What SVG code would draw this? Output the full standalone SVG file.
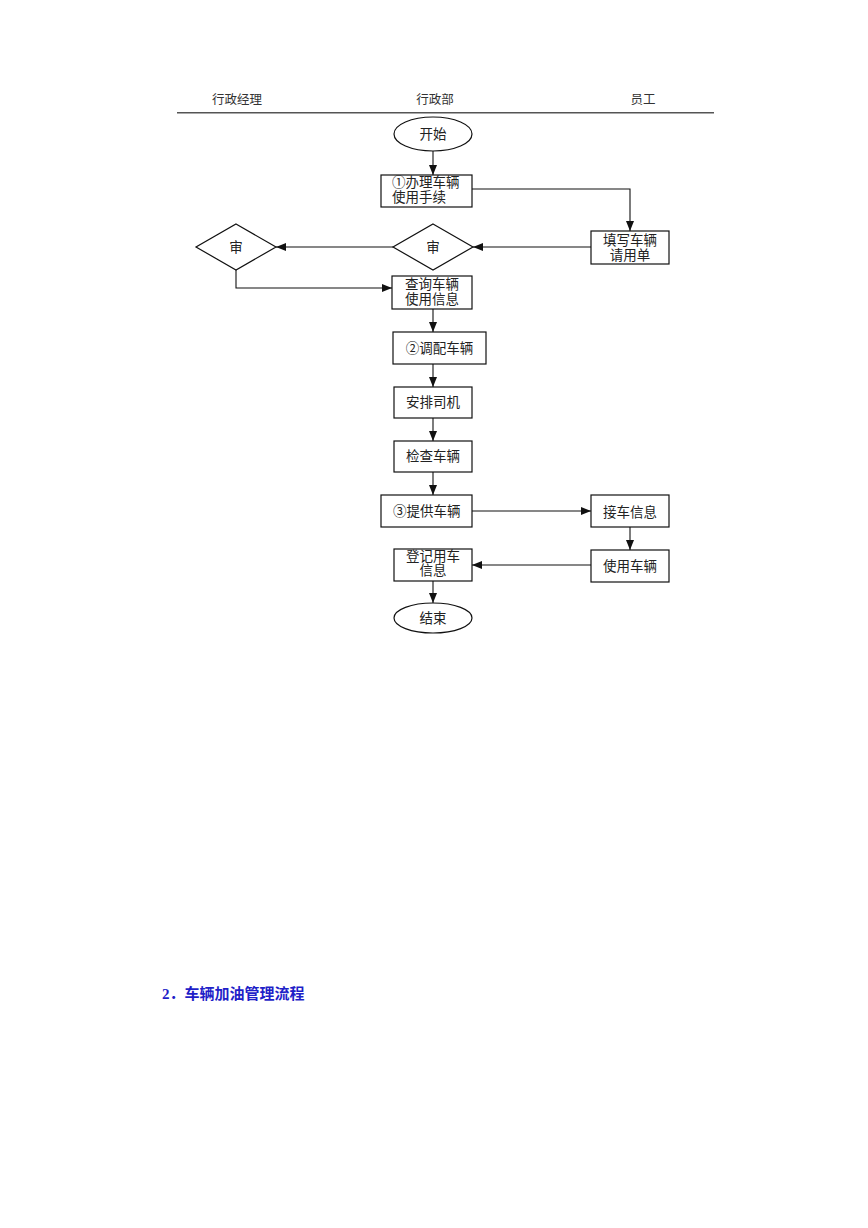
<svg xmlns="http://www.w3.org/2000/svg" width="868" height="1228" viewBox="0 0 868 1228">
<style>
  .shape { fill: #ffffff; stroke: #111111; stroke-width: 1.2; }
  .conn { fill: none; stroke: #111111; stroke-width: 1.1; marker-end: url(#arrow); }
  .t { font-family: "Liberation Serif", "Noto Sans CJK SC", serif; font-size: 13.5px; fill: #222222; text-anchor: middle; dominant-baseline: central; }
  .tl { text-anchor: start; }
  .hdr { font-family: "Liberation Serif", "Noto Sans CJK SC", serif; font-size: 12.5px; fill: #333333; text-anchor: middle; dominant-baseline: central; }
  .title { font-family: "Liberation Serif", "Noto Sans CJK SC", serif; font-size: 15px; font-weight: bold; fill: #1f1fc8; dominant-baseline: central; }
</style>
<defs>
  <marker id="arrow" markerUnits="userSpaceOnUse" markerWidth="10" markerHeight="8" refX="10" refY="4" orient="auto">
    <path d="M0,0 L10,4 L0,8 z" fill="#111111"/>
  </marker>
</defs>
<rect x="0" y="0" width="868" height="1228" fill="#ffffff"/>

<g id="header">
  <text class="hdr" x="237" y="100">行政经理</text>
  <text class="hdr" x="435" y="100">行政部</text>
  <text class="hdr" x="643" y="100">员工</text>
  <line x1="177" y1="112.7" x2="714" y2="112.7" stroke="#555555" stroke-width="1.5"/>
</g>

<g id="connectors">
  <path class="conn" d="M433,151 L433,175"/>
  <path class="conn" d="M472,189 L630,189 L630,231"/>
  <path class="conn" d="M591,247 L473,247"/>
  <path class="conn" d="M393,247 L276,247"/>
  <path class="conn" d="M236,270 L236,288 L392,288"/>
  <path class="conn" d="M433,309 L433,332"/>
  <path class="conn" d="M433,364 L433,387"/>
  <path class="conn" d="M433,418 L433,441"/>
  <path class="conn" d="M433,472 L433,495"/>
  <path class="conn" d="M472,511 L591,511"/>
  <path class="conn" d="M630,527 L630,550"/>
  <path class="conn" d="M591,565 L472,565"/>
  <path class="conn" d="M433,581 L433,603"/>
</g>

<g id="start">
  <ellipse class="shape" cx="433" cy="134" rx="39" ry="17"/>
  <text class="t" x="433" y="134">开始</text>
</g>
<g id="n1">
  <rect class="shape" x="381" y="175" width="91" height="32"/>
  <text class="t tl" x="392" y="182.5">①办理车辆</text>
  <text class="t tl" x="392" y="197.5">使用手续</text>
</g>
<g id="n2">
  <rect class="shape" x="591" y="231" width="78" height="33"/>
  <text class="t" x="630" y="240.5">填写车辆</text>
  <text class="t" x="630" y="255.5">请用单</text>
</g>
<g id="d1">
  <polygon class="shape" points="433,224 473,247 433,270 393,247"/>
  <text class="t" x="433" y="247">审</text>
</g>
<g id="d2">
  <polygon class="shape" points="236,224 276,247 236,270 196,247"/>
  <text class="t" x="236" y="247">审</text>
</g>
<g id="n3">
  <rect class="shape" x="392" y="276" width="80" height="33"/>
  <text class="t" x="432" y="284.5">查询车辆</text>
  <text class="t" x="432" y="299.5">使用信息</text>
</g>
<g id="n4">
  <rect class="shape" x="393" y="332" width="93" height="32"/>
  <text class="t" x="439.5" y="348">②调配车辆</text>
</g>
<g id="n5">
  <rect class="shape" x="394" y="387" width="78" height="31"/>
  <text class="t" x="433" y="402.5">安排司机</text>
</g>
<g id="n6">
  <rect class="shape" x="394" y="441" width="78" height="31"/>
  <text class="t" x="433" y="456.5">检查车辆</text>
</g>
<g id="n7">
  <rect class="shape" x="381" y="495" width="91" height="32"/>
  <text class="t tl" x="393" y="511.5">③提供车辆</text>
</g>
<g id="n8">
  <rect class="shape" x="591" y="495" width="78" height="32"/>
  <text class="t" x="630" y="512">接车信息</text>
</g>
<g id="n9">
  <rect class="shape" x="591" y="550" width="78" height="32"/>
  <text class="t" x="630" y="566.5">使用车辆</text>
</g>
<g id="n10">
  <rect class="shape" x="394" y="549" width="78" height="32"/>
  <text class="t" x="433" y="556.5">登记用车</text>
  <text class="t" x="433" y="570.5">信息</text>
</g>
<g id="end">
  <ellipse class="shape" cx="433" cy="618" rx="39" ry="15"/>
  <text class="t" x="433" y="618.5">结束</text>
</g>

<text class="title" x="162" y="993.5">2．车辆加油管理流程</text>
</svg>
